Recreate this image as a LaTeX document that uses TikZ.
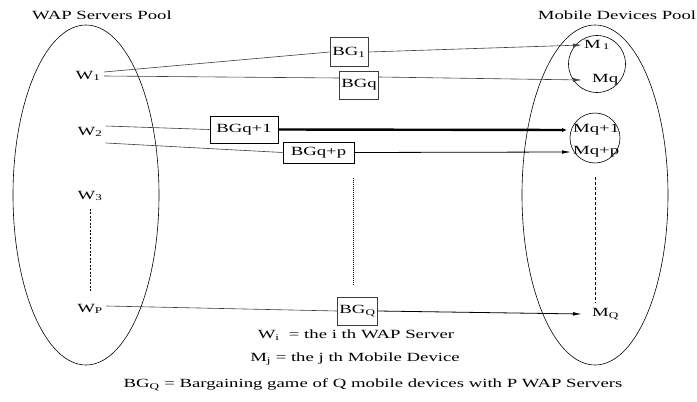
\documentclass[tikz,border=0pt]{standalone}
\usepackage{fontspec}
\setmainfont{Liberation Serif}[FakeStretch=1.5]
\usepackage{tikz}
\usetikzlibrary{arrows.meta,positioning}
\usepackage{xcolor}
\definecolor{LinkG}{RGB}{60,60,60}

\begin{document}
\begin{tikzpicture}[x=1pt,y=-1pt,font=\fontsize{12.5}{15}\selectfont,
    bgbox/.style={draw,LinkG,text=black,line width=0.6pt,minimum height=28pt,inner xsep=2pt,inner ysep=1pt},
    dev/.style={anchor=west,inner sep=2pt},
    link/.style={LinkG,line width=0.6pt},
    tip/.style={-{Latex[length=9pt,width=3.6pt]}}]
        \useasboundingbox (0,0) rectangle (697,402);
        % pools
        \node (wtitle) at (102,15) {WAP Servers Pool};
        \node (mtitle) at (617,15) {Mobile Devices Pool};
        \draw[line width=0.6pt] (86,195) ellipse [x radius=73pt,y radius=170pt];
        \draw[line width=0.6pt] (595,195) ellipse [x radius=73pt,y radius=170pt];
        \node[circle,draw,line width=0.6pt,minimum size=57pt] (grpone) at (597,64) {};
        \node[circle,draw,line width=0.6pt,minimum size=50pt] (grptwo) at (595,138) {};
        % servers
        \node (w1) at (88,76) {W\textsubscript{1}};
        \node (w2) at (90,132) {W\textsubscript{2}};
        \node (w3) at (90,196) {W\textsubscript{3}};
        \node (wp) at (90,309) {W\textsubscript{P}};
        \draw[dash pattern=on 2pt off 1.5pt] ([yshift=-4pt]w3.south) -- ([yshift=8pt]wp.north);
        % bargaining games
        \node[bgbox,minimum width=38pt,minimum height=29pt] (bg1) at (349,52) {BG\textsubscript{1}};
        \node[bgbox,minimum width=39pt] (bgq) at (359,85) {BGq};
        \node[bgbox,draw=black,line width=1pt,minimum width=68pt,minimum height=27pt] (bgqone) at (244,129.5) {BGq+1};
        \node[bgbox,draw=black,line width=1pt,minimum width=71pt,minimum height=21pt] (bgqp) at (318.5,152.5) {BGq+p};
        \node[bgbox,minimum width=39pt] (bgQ) at (357.5,311) {BG\textsubscript{Q}};
        \draw[dash pattern=on 1pt off 1pt] (353,178) -- (353,285);
        % mobile devices
        \node[dev] (m1) at (582,45) {M\,\textsubscript{1}};
        \node[dev] (mq) at (590,80) {Mq};
        \node[dev] (mqone) at (571,130) {Mq+1};
        \node[dev] (mqp) at (571,152) {Mq+p};
        \node[dev] (mQ) at (590,314) {M\textsubscript{Q}};
        \coordinate (dashend) at (grptwo.south |- mQ.north);
        \draw[dash pattern=on 3pt off 2pt] ([yshift=-14pt]grptwo.south) -- ([yshift=3pt]dashend);
        % links
        \draw[link] ([yshift=4pt]w1.east) -- (bg1.west);
        \draw[link] (w1.east) -- ([yshift=7pt]bgq.west);
        \draw[link,tip] (bg1.east) -- (m1.west);
        \draw[link,tip] ([yshift=8pt]bgq.east) -- ([xshift=-8pt]mq.west);
        \draw[link] ([yshift=6pt]w2.east) -- (bgqone.west);
        \draw[line width=2.4pt,tip] (bgqone.east) -- (mqone.west);
        \draw[link] ([yshift=-11pt]w2.east) -- (bgqp.west);
        \draw[line width=0.8pt,tip] (bgqp.east) -- (mqp.west);
        \draw[link] ([yshift=3pt]wp.east) -- (bgQ.west);
        \draw[line width=0.8pt,tip] (bgQ.east) -- ([xshift=-8pt]mQ.west);
        % legend
        \node (legw) at (356,335) {W\textsubscript{i}\ \ = the i th WAP Server};
        \node (legm) at (355,359) {M\textsubscript{j} = the j th Mobile Device};
        \node (legbg) at (373,385) {BG\textsubscript{Q} = Bargaining game of Q mobile devices with P WAP Servers};
      \end{tikzpicture}
\end{document}
